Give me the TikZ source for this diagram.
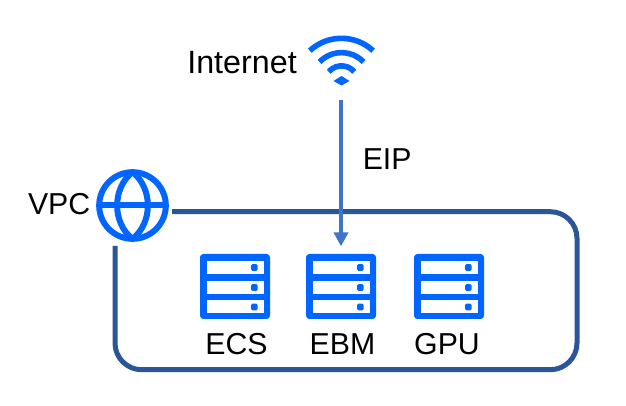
\documentclass[tikz,border=0pt]{standalone}
\usepackage{fontspec}
\setmainfont{Liberation Sans}
\usetikzlibrary{arrows.meta}
\definecolor{iconblue}{HTML}{0066FF}
\definecolor{boxblue}{HTML}{2A5599}
\definecolor{eipblue}{HTML}{3F74C8}
\tikzset{
  icon/.style={line width=4.5pt,draw=iconblue},
  wave/.style={line width=4.2pt,draw=iconblue},
  srvbox/.style={fill=iconblue,rounded corners=2.5pt,minimum width=52.5pt,minimum height=48.75pt,inner sep=0pt},
  lbl/.style={font=\fontsize{22.7}{26}\selectfont,inner sep=0pt,text=black},
}
\begin{document}
\begin{tikzpicture}[x=0.75pt,y=-0.75pt]
  \useasboundingbox (0,0) rectangle (626,406);
  % VPC frame
  \draw[boxblue,line width=3.75pt,rounded corners=20pt] (172,211.7)--(577,211.7)--(577,369.7)--(115,369.7)--(115,246);
  % globe
  \node[circle,draw=iconblue,line width=4.5pt,minimum size=50pt,inner sep=0pt,outer sep=0pt] (vpc) at (132.5,205.5) {};
  \draw[icon] (vpc.west)--(vpc.east);
  \draw[icon] (vpc.north) to[bend left=52] (vpc.south);
  \draw[icon] (vpc.north) to[bend right=52] (vpc.south);
  \node[lbl,anchor=east] (vpclbl) at (90.5,204) {VPC};
  % wifi
  \draw[wave] (309.8,50.7) arc[start angle=132.7,end angle=47.3,radius=35pt];
  \draw[wave] (319.5,62) arc[start angle=136,end angle=44,radius=23pt];
  \draw[wave] (328.7,71.8) arc[start angle=140,end angle=40,radius=12.5pt];
  \fill[iconblue] (333.5,81)--(341.5,76)--(349.5,81)--(341.5,85.5)--cycle;
  \coordinate (wifi) at (341,100);
  \node[font=\fontsize{24.2}{28}\selectfont,inner sep=0pt,anchor=base east] (inet) at (297,74) {Internet};
  % servers
  \foreach \n/\x/\lx/\t in {ecs/235/236.5/ECS,ebm/341/342.5/EBM,gpu/449/447/GPU}{
    \node[srvbox] (\n) at (\x,286.5) {};
    \foreach \r in {267.5,287.5,307}{
      \fill[white] (\x-28,\r-6.5) rectangle (\x+28.5,\r+6.5);
      \fill[iconblue,rounded corners=1pt] (\x+16,\r-3.3) rectangle (\x+22.7,\r+3.3);
    }
    \node[lbl,anchor=base] (\n lbl) at (\lx,355) {\t};
  }
  % EIP
  \draw[eipblue,line width=3.5pt,-{Triangle[length=10.5pt,width=10.5pt]},shorten >=5.5pt] (wifi)--(ebm);
  \node[lbl,anchor=base west] (eip) at (362.5,170) {EIP};
\end{tikzpicture}
\end{document}
